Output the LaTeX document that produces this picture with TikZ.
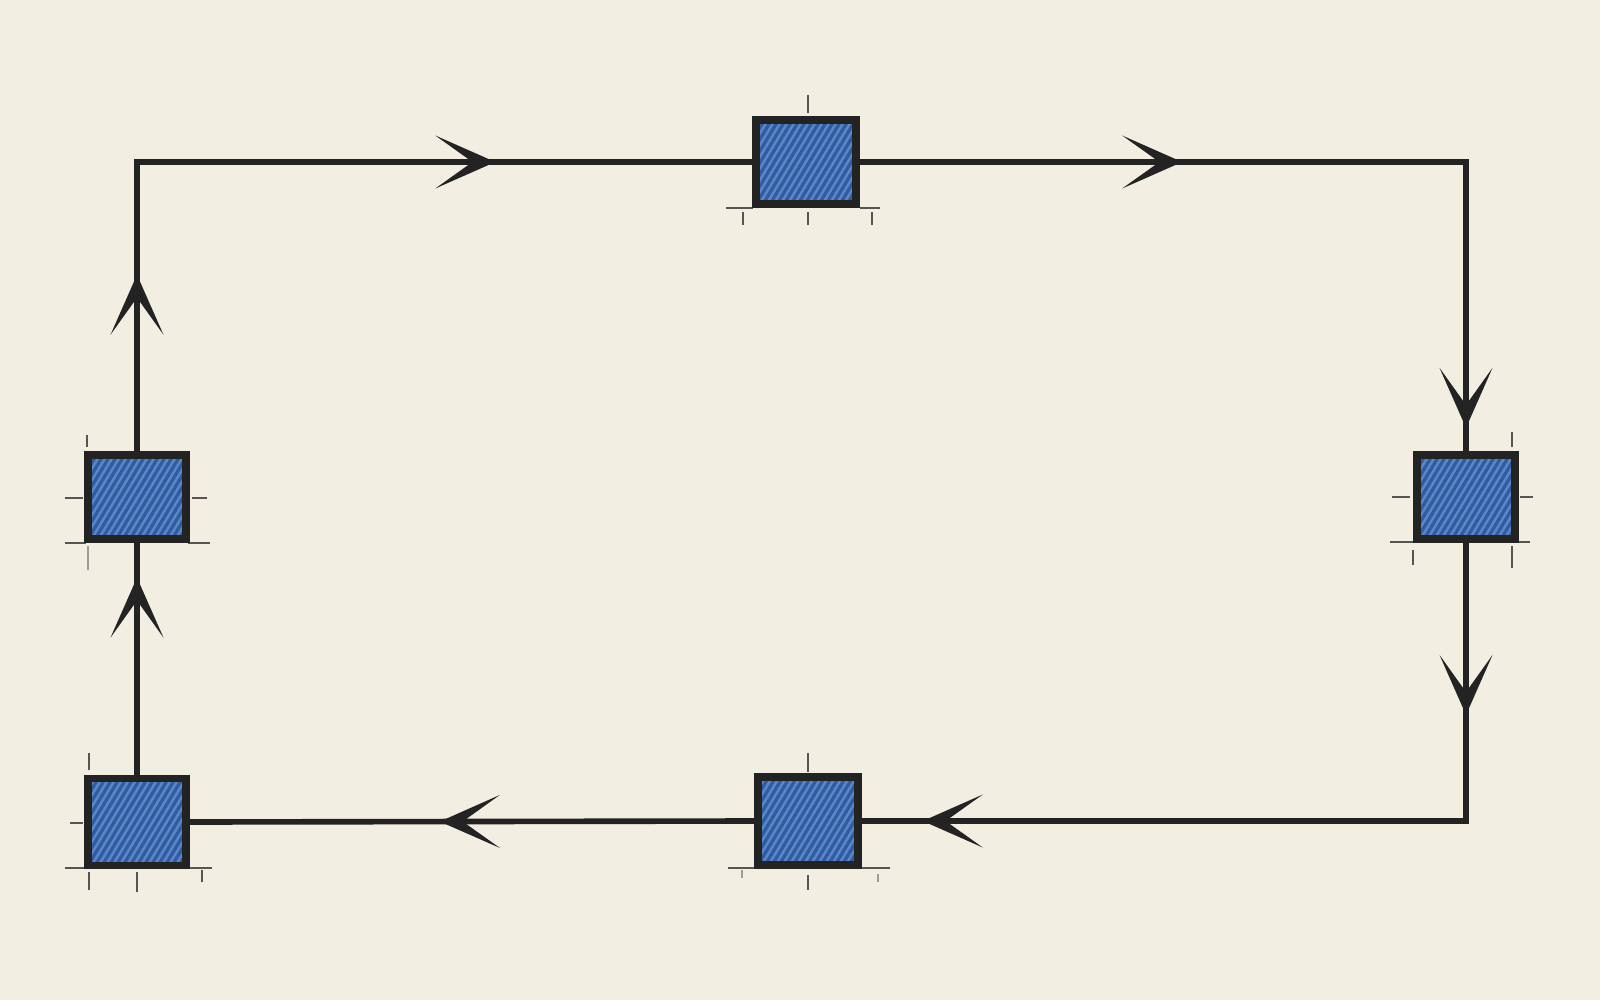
\documentclass[tikz,border=0pt]{standalone}
\usetikzlibrary{arrows.meta,decorations.markings,calc}
\definecolor{paper}{HTML}{F3EEE2}
\definecolor{ink}{HTML}{232323}
\definecolor{boxblue}{HTML}{2E5DA6}
\definecolor{hatchblue}{HTML}{86A8D8}
\tikzset{
  chev/.tip={Stealth[length=17pt,width=15pt,inset=10.5pt]},
  wire/.style={draw=ink,line width=1.6pt,line join=miter,postaction={decorate}},
  sq/.style={draw=ink,line width=2.2pt,fill=boxblue,minimum width=0.98cm,minimum height=0.84cm,inner sep=0pt,
    path picture={\foreach \k in {-16,...,16}{\draw[hatchblue,line width=0.7pt,opacity=0.55]
      ($(path picture bounding box.south west)+(\k*7,6)$) -- ++(66,-110);}}},
  guide/.style={draw=ink,line width=0.6pt,opacity=0.75}
}
\begin{document}
\begin{tikzpicture}[x=0.01cm,y=-0.01cm]
\fill[paper] (0,0) rectangle (1600,1000);
\useasboundingbox (0,0) rectangle (1600,1000);

% boxes
\node[sq,minimum width=1.0cm] (T) at (806,162) {};
\node[sq] (L) at (137,497) {};
\node[sq,minimum height=0.87cm] (BL) at (137,822) {};
\node[sq] (R) at (1466,497) {};
\node[sq,minimum width=1.0cm,minimum height=0.88cm] (BM) at (808,821) {};

% connectors
\draw[wire,decoration={markings,mark=at position 0.85 with {\arrow{chev}}}] (BL.north) -- (L.south);
\draw[wire,decoration={markings,mark=at position 0.195 with {\arrow{chev}},mark=at position 0.716 with {\arrow{chev}}}] (L.north) |- (T.west);
\draw[wire,decoration={markings,mark=at position 0.36 with {\arrow{chev}},mark=at position 0.974 with {\arrow{chev}}}] (T.east) -| (R.north);
\draw[wire,decoration={markings,mark=at position 0.195 with {\arrow{chev}},mark=at position 0.931 with {\arrow{chev}}}] (R.south) |- (BM.east);
\draw[wire,decoration={markings,mark=at position 0.557 with {\arrow{chev}}}] (BM.west) -- (BL.east);

% redraw boxes on top of wire ends
\node[sq,minimum width=1.0cm] at (806,162) {};
\node[sq] at (137,497) {};
\node[sq,minimum height=0.87cm] at (137,822) {};
\node[sq] at (1466,497) {};
\node[sq,minimum width=1.0cm,minimum height=0.88cm] at (808,821) {};

% construction ticks: top box
\draw[guide] (808,95) -- (808,113);
\draw[guide] (726,208) -- (753,208) (860,208) -- (880,208);
\draw[guide] (743,212) -- (743,225) (808,212) -- (808,225) (872,212) -- (872,225);
% left box
\draw[guide] (65,498) -- (83,498) (192,498) -- (207,498);
\draw[guide] (87,435) -- (87,447);
\draw[guide] (65,543) -- (86,543) (188,543) -- (210,543);
\draw[guide,opacity=0.4] (88,546) -- (88,570);
% bottom-left box
\draw[guide] (89,753) -- (89,770);
\draw[guide] (70,823) -- (83,823);
\draw[guide] (65,868) -- (85,868) (188,868) -- (212,868);
\draw[guide] (89,872) -- (89,890) (137,872) -- (137,892) (202,870) -- (202,882);
% right box
\draw[guide] (1392,497) -- (1410,497) (1520,497) -- (1533,497);
\draw[guide] (1512,432) -- (1512,447);
\draw[guide] (1390,542) -- (1413,542) (1518,542) -- (1530,542);
\draw[guide] (1413,550) -- (1413,565) (1512,546) -- (1512,568);
% bottom-middle box
\draw[guide] (808,753) -- (808,772);
\draw[guide] (728,868) -- (755,868) (862,868) -- (890,868);
\draw[guide] (808,875) -- (808,890);
\draw[guide,opacity=0.4] (742,870) -- (742,878) (878,874) -- (878,882);
\end{tikzpicture}
\end{document}
